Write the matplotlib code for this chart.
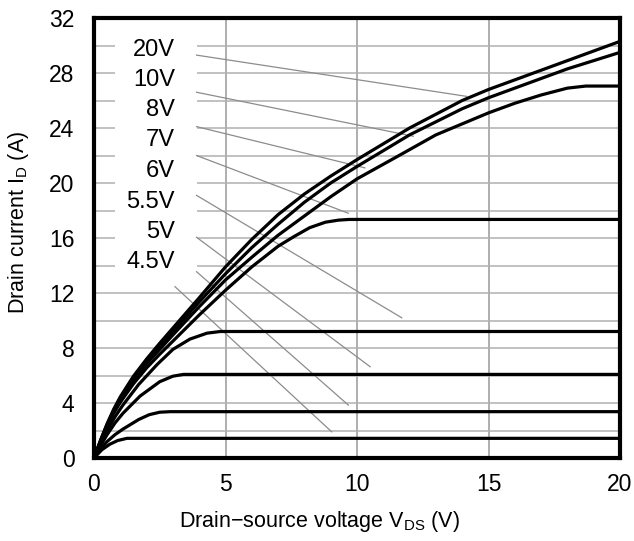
"""
MOSFET output characteristics I_D - V_DS
"""

import matplotlib
matplotlib.use("Agg")
import matplotlib.pyplot as plt
from matplotlib.patches import Rectangle

plt.rcParams['font.family'] = ['Liberation Sans', 'DejaVu Sans']
plt.rcParams['mathtext.fontset'] = 'custom'
plt.rcParams['mathtext.rm'] = 'Liberation Sans'

vgs_labels = ['20V', '10V', '8V', '7V', '6V', '5.5V', '5V', '4.5V']

vds_20 = [0, 0.25, 0.5, 0.75, 1, 1.5, 2, 2.5, 3, 4, 5, 6, 7, 8, 9, 10, 12, 14, 15, 16, 18, 20]
id_20 = [0, 1.3, 2.5, 3.55, 4.45, 5.95, 7.2, 8.35, 9.45, 11.65, 13.9, 15.9, 17.7, 19.2,
         20.5, 21.7, 24.0, 26.0, 26.8, 27.5, 28.9, 30.3]

vds_10 = [0, 0.25, 0.5, 0.75, 1, 1.5, 2, 2.5, 3, 4, 5, 6, 7, 8, 9, 10, 12, 14, 15, 16, 18, 20]
id_10 = [0, 1.27, 2.44, 3.47, 4.35, 5.8, 7.05, 8.15, 9.2, 11.35, 13.4, 15.3, 17.0, 18.6,
         20.0, 21.2, 23.5, 25.4, 26.2, 26.9, 28.3, 29.5]

vds_8 = [0, 0.25, 0.5, 0.75, 1, 1.5, 2, 2.5, 3, 4, 5, 6, 7, 8, 9, 10, 11.6, 13, 15, 16,
         17, 18, 18.7, 20]
id_8 = [0, 1.24, 2.38, 3.38, 4.23, 5.65, 6.85, 7.9, 8.95, 11.0, 12.95, 14.6, 16.2, 17.6,
        19.0, 20.3, 22.0, 23.5, 25.1, 25.8, 26.4, 26.9, 27.05, 27.05]

vds_7 = [0, 0.25, 0.5, 0.75, 1, 1.5, 2, 2.5, 3, 4, 5, 6, 7, 7.6, 8.2, 8.8, 9.3, 9.7, 20]
id_7 = [0, 1.2, 2.3, 3.25, 4.05, 5.4, 6.55, 7.55, 8.5, 10.4, 12.2, 13.9, 15.4, 16.1,
        16.75, 17.15, 17.3, 17.35, 17.35]

vds_6 = [0, 0.25, 0.5, 0.8, 1.1, 1.7, 2.4, 3.0, 3.65, 4.3, 4.8, 20]
id_6 = [0, 1.05, 2.0, 3.0, 3.85, 5.35, 6.8, 7.9, 8.65, 9.08, 9.2, 9.2]

vds_55 = [0, 0.25, 0.5, 0.8, 1.1, 1.75, 2.5, 3.0, 3.4, 20]
id_55 = [0, 0.9, 1.7, 2.55, 3.25, 4.5, 5.55, 5.95, 6.08, 6.08]

vds_5 = [0, 0.25, 0.5, 0.8, 1.1, 1.7, 2.1, 2.5, 2.9, 20]
id_5 = [0, 0.65, 1.2, 1.7, 2.1, 2.8, 3.15, 3.33, 3.37, 3.37]

vds_45 = [0, 0.3, 0.6, 0.9, 1.25, 20]
id_45 = [0, 0.6, 1.0, 1.27, 1.43, 1.43]

# Beschriftungen: Textposition und Hinweislinien
label_x = 3.08
label_y = [29.7, 27.5, 25.3, 23.1, 20.85, 18.65, 16.45, 14.25]
lead_x0 = [3.9, 3.9, 3.9, 3.9, 3.9, 3.9, 3.9, 3.08]
lead_y0 = [29.3, 26.6, 24.1, 22.0, 19.1, 16.05, 13.55, 12.46]
lead_x1 = [14.17, 12.14, 10.3, 9.67, 11.7, 10.5, 9.67, 9.04]
lead_y1 = [26.3, 23.4, 21.1, 17.8, 10.2, 6.64, 3.85, 1.9]

curves = [(vds_20, id_20), (vds_10, id_10), (vds_8, id_8), (vds_7, id_7),
          (vds_6, id_6), (vds_55, id_55), (vds_5, id_5), (vds_45, id_45)]


def plot_characteristics():
    fig = plt.figure(figsize=(6.34, 5.41), dpi=100)
    ax = fig.add_axes([94 / 634, 1 - 458 / 541, 526 / 634, 440 / 541])

    ax.set_xlim(0, 20)
    ax.set_ylim(0, 32)
    ax.set_xticks([0, 5, 10, 15, 20])
    ax.set_yticks(range(0, 33, 4))
    ax.set_yticks(range(0, 33, 2), minor=True)
    ax.set_axisbelow(True)
    ax.grid(True, which='both', axis='y', color='#b0b0b0', linewidth=1.1)
    ax.grid(True, which='major', axis='x', color='#999999', linewidth=1.1)
    ax.tick_params(which='both', length=0)
    ax.tick_params(axis='y', pad=14, labelsize=16.5)
    ax.tick_params(axis='x', pad=11, labelsize=16.5)

    for sp in ax.spines.values():
        sp.set_linewidth(3)
        sp.set_color('black')

    # weisser Hintergrund hinter den Beschriftungen
    ax.add_patch(Rectangle((0.8, 13.0), 3.1, 18.5, facecolor='white',
                           edgecolor='none', zorder=1))

    for i in range(len(vgs_labels)):
        ax.plot([lead_x0[i], lead_x1[i]], [lead_y0[i], lead_y1[i]],
                color='#8c8c8c', linewidth=0.9, zorder=2)
        ax.text(label_x, label_y[i], vgs_labels[i], ha='right', va='center',
                fontsize=17, zorder=4)

    for vds, cur in curves:
        ax.plot(vds, cur, color='black', linewidth=2.3, zorder=3,
                solid_joinstyle='round', solid_capstyle='round')

    ax.set_xlabel(r'Drain$-$source voltage V$_{\mathregular{DS}}$ (V)', fontsize=15.5)
    ax.set_ylabel(r'Drain current I$_{\mathregular{D}}$ (A)', fontsize=15.5)
    ax.xaxis.set_label_coords(0.428, -0.115)
    ax.yaxis.set_label_coords(-0.12, 0.535)

    fig.savefig('out.png', dpi=100)


if __name__ == "__main__":
    plot_characteristics()
